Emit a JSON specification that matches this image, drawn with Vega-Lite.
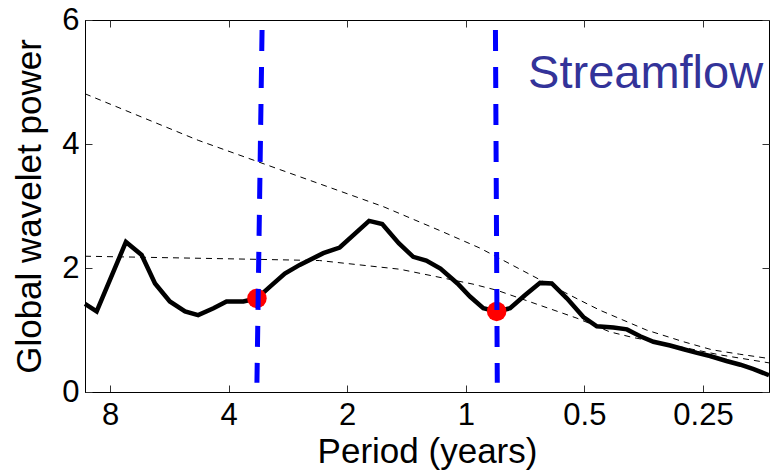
{
  "$schema": "https://vega.github.io/schema/vega-lite/v6.json",
  "width": 684,
  "height": 372,
  "autosize": "none",
  "padding": {"left": 85, "top": 20, "right": 2, "bottom": 81},
  "background": "white",
  "datasets": {
    "gws": [
      {"period": 9.26, "power": 1.42}, {"period": 8.65, "power": 1.30}, {"period": 7.29, "power": 2.42},
      {"period": 6.65, "power": 2.21}, {"period": 6.15, "power": 1.75}, {"period": 5.64, "power": 1.46},
      {"period": 5.16, "power": 1.30}, {"period": 4.78, "power": 1.24}, {"period": 4.37, "power": 1.35},
      {"period": 4.05, "power": 1.46}, {"period": 3.67, "power": 1.46}, {"period": 3.39, "power": 1.51},
      {"period": 3.14, "power": 1.70}, {"period": 2.88, "power": 1.91}, {"period": 2.64, "power": 2.05},
      {"period": 2.30, "power": 2.24}, {"period": 2.09, "power": 2.33}, {"period": 1.76, "power": 2.76},
      {"period": 1.63, "power": 2.71}, {"period": 1.48, "power": 2.40}, {"period": 1.36, "power": 2.18},
      {"period": 1.26, "power": 2.12}, {"period": 1.16, "power": 1.99}, {"period": 1.05, "power": 1.75},
      {"period": 0.976, "power": 1.54}, {"period": 0.903, "power": 1.35}, {"period": 0.835, "power": 1.30},
      {"period": 0.772, "power": 1.35}, {"period": 0.708, "power": 1.56}, {"period": 0.648, "power": 1.76},
      {"period": 0.605, "power": 1.75}, {"period": 0.554, "power": 1.51}, {"period": 0.503, "power": 1.21},
      {"period": 0.465, "power": 1.06}, {"period": 0.422, "power": 1.04}, {"period": 0.390, "power": 1.01},
      {"period": 0.361, "power": 0.90}, {"period": 0.334, "power": 0.81}, {"period": 0.303, "power": 0.75},
      {"period": 0.280, "power": 0.69}, {"period": 0.259, "power": 0.63}, {"period": 0.240, "power": 0.58},
      {"period": 0.218, "power": 0.50}, {"period": 0.201, "power": 0.44}, {"period": 0.186, "power": 0.37},
      {"period": 0.170, "power": 0.27}
    ],
    "sigA": [
      {"period": 9.26, "power": 4.81}, {"period": 4.78, "power": 4.06}, {"period": 3.39, "power": 3.72},
      {"period": 2.66, "power": 3.48}, {"period": 1.62, "power": 2.99}, {"period": 1.16, "power": 2.60},
      {"period": 0.920, "power": 2.32}, {"period": 0.648, "power": 1.81}, {"period": 0.513, "power": 1.48},
      {"period": 0.457, "power": 1.32}, {"period": 0.348, "power": 1.00}, {"period": 0.280, "power": 0.81},
      {"period": 0.237, "power": 0.68}, {"period": 0.202, "power": 0.61}, {"period": 0.170, "power": 0.54}
    ],
    "sigB": [
      {"period": 9.26, "power": 2.19}, {"period": 4.12, "power": 2.15}, {"period": 2.35, "power": 2.12},
      {"period": 1.47, "power": 1.98}, {"period": 0.959, "power": 1.74}, {"period": 0.833, "power": 1.64},
      {"period": 0.522, "power": 1.19}, {"period": 0.431, "power": 0.97}, {"period": 0.377, "power": 0.88},
      {"period": 0.281, "power": 0.72}, {"period": 0.227, "power": 0.60}, {"period": 0.170, "power": 0.47}
    ],
    "dots": [
      {"period": 3.39, "power": 1.51}, {"period": 0.835, "power": 1.30}
    ],
    "marks": [
      {"ptop": 3.29, "pbot": 3.39, "top": 5.84, "bot": 0.15},
      {"ptop": 0.841, "pbot": 0.832, "top": 5.84, "bot": 0.15}
    ],
    "label": [
      {"period": 0.695, "power": 4.91, "text": "Streamflow"}
    ]
  },
  "layer": [
    {
      "data": {"name": "sigA"},
      "mark": {"type": "line", "color": "black", "strokeWidth": 1, "strokeDash": [6, 5]},
      "encoding": {
        "x": {"field": "period", "type": "quantitative",
              "scale": {"type": "log", "base": 2, "domain": [0.170, 9.26], "reverse": true, "nice": false, "zero": false},
              "axis": {"orient": "bottom", "values": [0.25, 0.5, 1, 2, 4, 8], "title": "Period (years)", "labelPadding": 15, "titlePadding": 4, "labelFlush": false}},
        "y": {"field": "power", "type": "quantitative",
              "scale": {"domain": [0, 6], "nice": false, "zero": false},
              "axis": {"orient": "left", "values": [0, 2, 4, 6], "title": "Global wavelet power", "labelPadding": 13, "titlePadding": 14, "labelFlush": false}}
      }
    },
    {
      "data": {"name": "sigB"},
      "mark": {"type": "line", "color": "black", "strokeWidth": 1, "strokeDash": [6, 5]},
      "encoding": {
        "x": {"field": "period", "type": "quantitative", "axis": null},
        "y": {"field": "power", "type": "quantitative", "axis": null}
      }
    },
    {
      "data": {"name": "gws"},
      "mark": {"type": "line", "color": "black", "strokeWidth": 4.5},
      "encoding": {
        "x": {"field": "period", "type": "quantitative", "axis": null},
        "y": {"field": "power", "type": "quantitative", "axis": null}
      }
    },
    {
      "data": {"name": "dots"},
      "mark": {"type": "circle", "color": "#ff0000", "opacity": 1, "size": 380},
      "encoding": {
        "x": {"field": "period", "type": "quantitative", "axis": null},
        "y": {"field": "power", "type": "quantitative", "axis": null}
      }
    },
    {
      "data": {"name": "marks"},
      "mark": {"type": "rule", "color": "#0000ff", "strokeWidth": 5, "strokeDash": [21, 16], "strokeCap": "butt"},
      "encoding": {
        "x": {"field": "ptop", "type": "quantitative", "axis": null},
        "x2": {"field": "pbot"},
        "y": {"field": "top", "type": "quantitative", "axis": null},
        "y2": {"field": "bot"}
      }
    },
    {
      "data": {"name": "label"},
      "mark": {"type": "text", "color": "#333399", "font": "Liberation Sans", "fontSize": 47, "align": "left", "baseline": "alphabetic"},
      "encoding": {
        "x": {"field": "period", "type": "quantitative", "axis": null},
        "y": {"field": "power", "type": "quantitative", "axis": null},
        "text": {"field": "text"}
      }
    },
    {
      "data": {"name": "sigA"},
      "mark": {"type": "line", "opacity": 0},
      "encoding": {
        "x": {"field": "period", "type": "quantitative",
              "axis": {"orient": "top", "values": [0.25, 0.5, 1, 2, 4, 8], "labels": false, "title": null, "domain": false}},
        "y": {"field": "power", "type": "quantitative",
              "axis": {"orient": "right", "values": [0, 2, 4, 6], "labels": false, "title": null, "domain": false}}
      }
    }
  ],
  "resolve": {"axis": {"x": "independent", "y": "independent"}},
  "config": {
    "view": {"stroke": "black", "strokeWidth": 1},
    "axis": {
      "labelFont": "Liberation Sans", "titleFont": "Liberation Sans",
      "labelFontSize": 31, "titleFontSize": 35, "titleFontWeight": "normal",
      "labelColor": "black", "titleColor": "black",
      "domainColor": "black", "tickColor": "#333333", "tickSize": -7, "tickWidth": 1, "grid": false
    }
  }
}
